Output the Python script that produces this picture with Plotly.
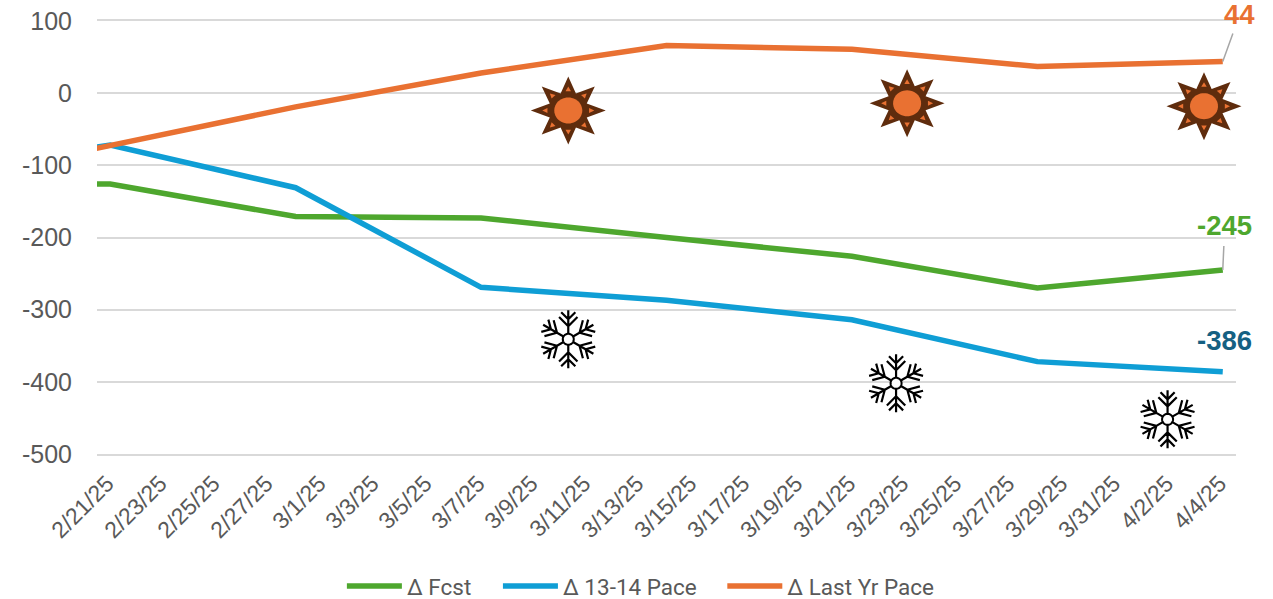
import math
from datetime import datetime
import plotly.graph_objects as go

# Weekly readings; the 2/14 row sits left of the visible window and is clipped by the axis range
week_dates = ["2025-02-14", "2025-02-21", "2025-02-28", "2025-03-07", "2025-03-14",
              "2025-03-21", "2025-03-28", "2025-04-04"]
fcst = [-125, -126, -171, -173, -200, -226, -270, -245]
pace_1314 = [-110, -72, -131, -269, -287, -314, -372, -386]
last_yr = [-126, -73, -19, 28, 66, 61, 37, 44]

tick_dates = ["2025-02-21", "2025-02-23", "2025-02-25", "2025-02-27", "2025-03-01", "2025-03-03",
              "2025-03-05", "2025-03-07", "2025-03-09", "2025-03-11", "2025-03-13", "2025-03-15",
              "2025-03-17", "2025-03-19", "2025-03-21", "2025-03-23", "2025-03-25", "2025-03-27",
              "2025-03-29", "2025-03-31", "2025-04-02", "2025-04-04"]
tick_text = ["2/21/25", "2/23/25", "2/25/25", "2/27/25", "3/1/25", "3/3/25", "3/5/25", "3/7/25",
             "3/9/25", "3/11/25", "3/13/25", "3/15/25", "3/17/25", "3/19/25", "3/21/25", "3/23/25",
             "3/25/25", "3/27/25", "3/29/25", "3/31/25", "4/2/25", "4/4/25"]
y_ticks = [100, 0, -100, -200, -300, -400, -500]
y_tick_text = ["100", "0", "-100", "-200", "-300", "-400", "-500"]

# Weather icon anchors
sun_x = ["2025-03-10 07:00", "2025-03-23 02:00", "2025-04-03 07:00"]
sun_y = [-24, -14, -18]
snow_x = ["2025-03-10 07:00", "2025-03-22 16:00", "2025-04-01 22:00"]
snow_y = [-341, -402, -452]

X_RANGE = ["2025-02-20 12:00", "2025-04-04 12:00"]

GREEN = "#4EA72E"
BLUE = "#0F9ED5"
ORANGE = "#E97132"
NAVY = "#156082"
BROWN = "#5F2C0D"
GRID = "#D9D9D9"
TEXT = "#595959"


def to_paper(stamp):
    # Suns may overhang the right edge, so they are anchored in paper space to escape the x clip
    t0, t1 = (datetime.strptime(s, "%Y-%m-%d %H:%M") for s in X_RANGE)
    t = datetime.strptime(stamp, "%Y-%m-%d %H:%M")
    return (t - t0) / (t1 - t0)


def polar(r_x, r_y, angle):
    return r_x * math.cos(angle), r_y * math.sin(angle)


def path_from(points):
    return "M " + " L ".join(f"{x:.2f},{y:.2f}" for x, y in points) + " Z"


def ellipse(r_x, r_y):
    return path_from([polar(r_x, r_y, 2 * math.pi * i / 48) for i in range(48)])


def sun_shapes(x, y):
    common = dict(xref="paper", yref="y", xsizemode="pixel", ysizemode="pixel",
                  xanchor=to_paper(x), yanchor=y, type="path")
    star = []
    for i in range(16):
        angle = math.pi * i / 8
        star.append(polar(37.5, 34, angle) if i % 2 == 0 else polar(20, 18.5, angle))
    shapes = [dict(path=path_from(star), fillcolor=BROWN, line=dict(width=0), **common)]
    for i in range(8):
        a = math.pi * i / 4
        tri = [polar(26, 24, a), polar(21, 19.5, a - 0.13), polar(21, 19.5, a + 0.13)]
        shapes.append(dict(path=path_from(tri), fillcolor=ORANGE, line=dict(width=0), **common))
    shapes.append(dict(path=ellipse(14, 13), fillcolor=ORANGE, line=dict(width=0), **common))
    return shapes


def snow_shapes(x, y):
    common = dict(xref="x", yref="y", xsizemode="pixel", ysizemode="pixel", xanchor=x, yanchor=y, type="path")
    segments = []
    for i in range(6):
        a = math.pi / 2 + math.pi * i / 3
        ux, uy = math.cos(a), math.sin(a)
        segments.append(f"M {5.5 * ux:.2f},{5.5 * uy:.2f} L {29 * ux:.2f},{29 * uy:.2f}")
        for dist, span in ((13, 13), (20, 10)):
            for side in (-1, 1):
                b = a + side * math.pi / 4
                bx = dist * ux
                by = dist * uy
                segments.append(
                    f"M {bx:.2f},{by:.2f} L {bx + span * math.cos(b):.2f},{by + span * math.sin(b):.2f}"
                )
    shapes = [dict(path=" ".join(segments), line=dict(color="#000000", width=2.2), **common)]
    shapes.append(dict(path=ellipse(5.5, 5.5), fillcolor="#FFFFFF", line=dict(color="#000000", width=2), **common))
    return shapes


fig = go.Figure()
for name, values, color, legend_id in (
    ("Δ Fcst", fcst, GREEN, "legend"),
    ("Δ 13-14 Pace", pace_1314, BLUE, "legend2"),
    ("Δ Last Yr Pace", last_yr, ORANGE, "legend3"),
):
    fig.add_trace(go.Scatter(x=week_dates, y=values, name=name, mode="lines", legend=legend_id,
                             line=dict(color=color, width=5.5)))

shapes = []
for x, y in zip(sun_x, sun_y):
    shapes += sun_shapes(x, y)
for x, y in zip(snow_x, snow_y):
    shapes += snow_shapes(x, y)

label_font = dict(family="Liberation Sans", size=27.5)
annotations = [
    dict(x=week_dates[-1], y=last_yr[-1], text=f"<b>{last_yr[-1]}</b>", ax=17, ay=-47,
         font=dict(color=ORANGE, **label_font), showarrow=True, arrowhead=0, arrowwidth=1.5,
         arrowcolor="#A6A6A6", borderpad=3),
    dict(x=week_dates[-1], y=fcst[-1], text=f"<b>{fcst[-1]}</b>", ax=2, ay=-44,
         font=dict(color=GREEN, **label_font), showarrow=True, arrowhead=0, arrowwidth=1.5,
         arrowcolor="#A6A6A6", borderpad=4),
    dict(x=week_dates[-1], y=pace_1314[-1], text=f"<b>{pace_1314[-1]}</b>",
         font=dict(color=NAVY, **label_font), showarrow=False, xshift=2, yshift=31),
]


def legend_at(left):
    return dict(x=left, xanchor="left", xref="paper", y=0.0568, yref="container", yanchor="top",
                font=dict(family="Roboto", size=22.5, color=TEXT), itemwidth=55,
                bgcolor="rgba(0,0,0,0)")


fig.update_layout(
    width=1273, height=599, autosize=False,
    margin=dict(l=97, r=37, t=21, b=145),
    paper_bgcolor="#FFFFFF", plot_bgcolor="#FFFFFF",
    shapes=shapes, annotations=annotations,
    showlegend=True,
    legend=legend_at(0.215),
    legend2=legend_at(0.352),
    legend3=legend_at(0.549),
    xaxis=dict(type="date", range=X_RANGE, automargin=False,
               tickmode="array", tickvals=tick_dates, ticktext=tick_text, tickangle=-45,
               tickfont=dict(family="Liberation Sans", size=23, color=TEXT),
               showgrid=False, ticks="", zeroline=False, ticklabelstandoff=5, ticklabelshift=-3,
               showline=True, linecolor=GRID, linewidth=2, mirror=True),
    yaxis=dict(range=[-500, 100], tickmode="array", tickvals=y_ticks, ticktext=y_tick_text,
               automargin=False,
               tickfont=dict(family="Liberation Sans", size=25, color=TEXT),
               showgrid=True, gridcolor=GRID, gridwidth=2, zeroline=False, showline=False,
               ticks="", ticklabelstandoff=24),
)

fig.write_html("out.html")
